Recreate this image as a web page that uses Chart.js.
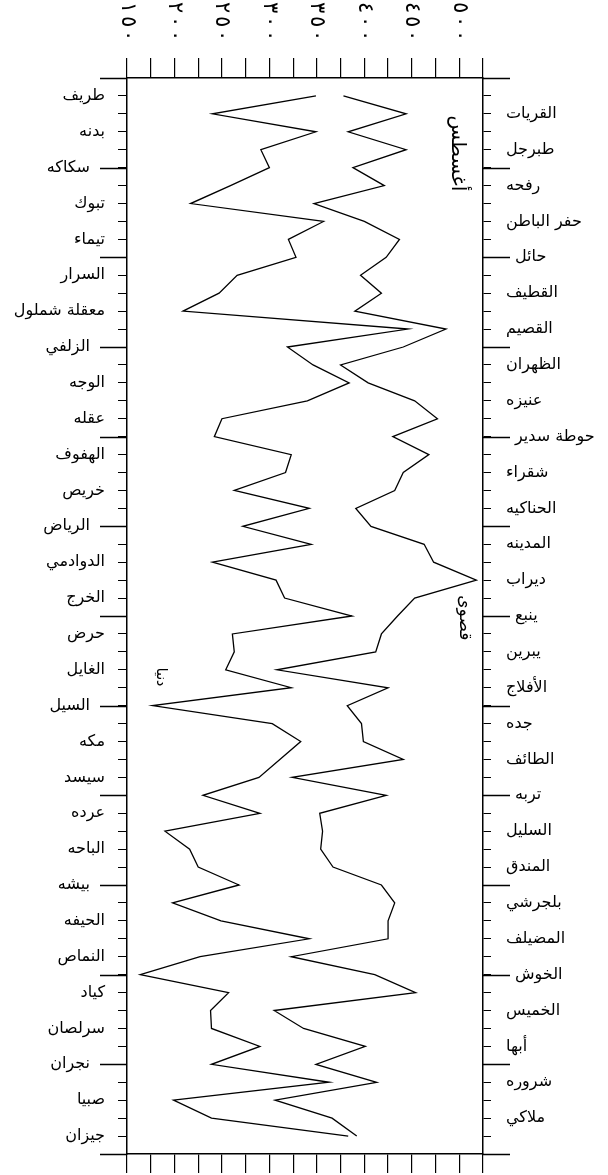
<!DOCTYPE html>
<html lang="ar">
<head>
<meta charset="utf-8">
<title>أغسطس</title>
<script src="https://cdn.jsdelivr.net/npm/chart.js@4.4.1/dist/chart.umd.min.js"></script>
<style>
  html, body { margin: 0; padding: 0; background: #fff; }
  #wrap { width: 608px; height: 1175px; }
</style>
</head>
<body>
<div id="wrap"><canvas id="c" width="608" height="1175"></canvas></div>
<script>
// Stations from north (top) to south (bottom)
const stations = [
  'طريف', 'القريات', 'بدنه', 'طبرجل', 'سكاكه', 'رفحه', 'تبوك', 'حفر الباطن',
  'تيماء', 'حائل', 'السرار', 'القطيف', 'معقلة شملول', 'القصيم', 'الزلفي', 'الظهران',
  'الوجه', 'عنيزه', 'عقله', 'حوطة سدير', 'الهفوف', 'شقراء', 'خريص', 'الحناكيه',
  'الرياض', 'المدينه', 'الدوادمي', 'ديراب', 'الخرج', 'ينبع', 'حرض', 'يبرين',
  'الغايل', 'الأفلاج', 'السيل', 'جده', 'مكه', 'الطائف', 'سيسد', 'تربه',
  'عرده', 'السليل', 'الباحه', 'المندق', 'بيشه', 'بلجرشي', 'الحيفه', 'المضيلف',
  'النماص', 'الخوش', 'كياد', 'الخميس', 'سرلصان', 'أبها', 'نجران', 'شروره',
  'صبيا', 'ملاكي', 'جيزان'
];

// Lowest (دنيا) values per station
const minValues = [
  349, 240, 349, 291, 300, 259, 217, 357, 320, 328,
  266, 247, 209, 446, 319, 346, 384, 340, 250, 242,
  323, 317, 263, 342, 272, 344, 240, 307, 316, 387,
  261, 263, 254, 323, 177, 303, 333, 311, 289, 230,
  290, 190, 216, 225, 268, 198, 249, 342, 227, 164,
  257, 238, 239, 290, 239, 363, 199, 239, 383
];

// Highest (قصوى) values per station
const maxValues = [
  378, 444, 383, 444, 388, 421, 347, 400, 437, 423,
  396, 418, 390, 486, 441, 375, 404, 453, 477, 430,
  468, 441, 432, 391, 407, 463, 473, 518, 453, 435,
  418, 412, 308, 425, 382, 397, 399, 441, 324, 423,
  353, 356, 354, 367, 418, 432, 425, 425, 323, 411,
  454, 305, 336, 401, 349, 413, 306, 366, 392
];

// Value axis labels (Arabic-Indic digits)
const valueTicks = [150, 200, 250, 300, 350, 400, 450, 500];
const valueTickLabels = ['١٥٠', '٢٠٠', '٢٥٠', '٣٠٠', '٣٥٠', '٤٠٠', '٤٥٠', '٥٠٠'];

const monthTitle = 'أغسطس';
const maxLabel = 'قصوى';
const minLabel = 'دنيا';

const FONT = '"DejaVu Sans", sans-serif';

const toPoints = vals => vals.map((v, i) => ({ x: v, y: i }));

// Draws the long row ticks, station names, rotated value labels and captions
const framePlugin = {
  id: 'framePlugin',
  afterDraw(chart) {
    const ctx = chart.ctx;
    const ys = chart.scales.y;
    const xs = chart.scales.x;
    const area = chart.chartArea;
    ctx.save();

    // every fifth row gets a long tick on both sides
    ctx.strokeStyle = '#000';
    ctx.lineWidth = 1.3;
    for (let r = Math.ceil(ys.min); r <= ys.max; r++) {
      if ((r + 1) % 5 !== 0) continue;
      const py = Math.round(ys.getPixelForValue(r)) + 0.5;
      ctx.beginPath();
      ctx.moveTo(area.left - 27, py);
      ctx.lineTo(area.left, py);
      ctx.moveTo(area.right, py);
      ctx.lineTo(area.right + 27, py);
      ctx.stroke();
    }

    // station names alternate between the two sides
    ctx.fillStyle = '#000';
    ctx.font = '16px ' + FONT;
    ctx.textBaseline = 'middle';
    stations.forEach((name, i) => {
      const py = ys.getPixelForValue(i);
      const major = (i + 1) % 5 === 0;
      if (i % 2 === 0) {
        ctx.textAlign = 'right';
        ctx.fillText(name, area.left - (major ? 37 : 22), py);
      } else {
        ctx.textAlign = 'left';
        ctx.fillText(name, area.right + (major ? 32 : 23), py);
      }
    });

    // value labels along the top, turned a quarter clockwise, digits spread out
    ctx.font = '21px ' + FONT;
    valueTicks.forEach((v, k) => {
      const px = xs.getPixelForValue(v);
      ctx.save();
      ctx.translate(px, 2);
      ctx.rotate(Math.PI / 2);
      ctx.textAlign = 'left';
      ctx.textBaseline = 'middle';
      Array.from(valueTickLabels[k]).forEach((d, j) => ctx.fillText(d, j * 14, 0));
      ctx.restore();
    });

    // rotated captions inside the plot
    const caption = (text, v, row, size) => {
      ctx.save();
      ctx.translate(xs.getPixelForValue(v), ys.getPixelForValue(row));
      ctx.rotate(Math.PI / 2);
      ctx.font = size + 'px ' + FONT;
      ctx.textAlign = 'center';
      ctx.textBaseline = 'middle';
      ctx.fillText(text, 0, 0);
      ctx.restore();
    };
    caption(monthTitle, 498, 3.2, 20);
    caption(maxLabel, 505, 29.1, 17);
    caption(minLabel, 185, 32.4, 14);

    ctx.restore();
  }
};

const rowAxis = (position, width, tickLength) => ({
  type: 'linear',
  position,
  reverse: true,
  min: -1,
  max: stations.length,
  afterFit(s) { s.width = width; },
  ticks: { display: false, stepSize: 1, autoSkip: false },
  grid: { drawOnChartArea: false, drawTicks: true, tickLength, color: '#000', lineWidth: 1 },
  border: { display: true, color: '#000', width: 1.5 }
});

const valueAxis = (position, height, tickLength) => ({
  type: 'linear',
  position,
  min: 150,
  max: 525,
  afterFit(s) { s.height = height; },
  ticks: { display: false, stepSize: 25, autoSkip: false },
  grid: { drawOnChartArea: false, drawTicks: true, tickLength, color: '#000', lineWidth: 1.2 },
  border: { display: true, color: '#000', width: 1.5 }
});

new Chart(document.getElementById('c'), {
  type: 'line',
  data: {
    datasets: [
      {
        label: minLabel,
        data: toPoints(minValues),
        xAxisID: 'x',
        yAxisID: 'y',
        borderColor: '#000',
        borderWidth: 1.3,
        pointRadius: 0,
        tension: 0,
        fill: false
      },
      {
        label: maxLabel,
        data: toPoints(maxValues),
        xAxisID: 'x',
        yAxisID: 'y',
        borderColor: '#000',
        borderWidth: 1.3,
        pointRadius: 0,
        tension: 0,
        fill: false
      }
    ]
  },
  options: {
    responsive: false,
    animation: false,
    devicePixelRatio: 1,
    indexAxis: 'y',
    layout: { padding: 0 },
    plugins: { legend: { display: false }, tooltip: { enabled: false } },
    scales: {
      x: valueAxis('top', 78, 20),
      x2: valueAxis('bottom', 21, 19),
      y: rowAxis('left', 127, 9),
      y2: rowAxis('right', 125, 8)
    }
  },
  plugins: [framePlugin]
});
</script>
</body>
</html>
